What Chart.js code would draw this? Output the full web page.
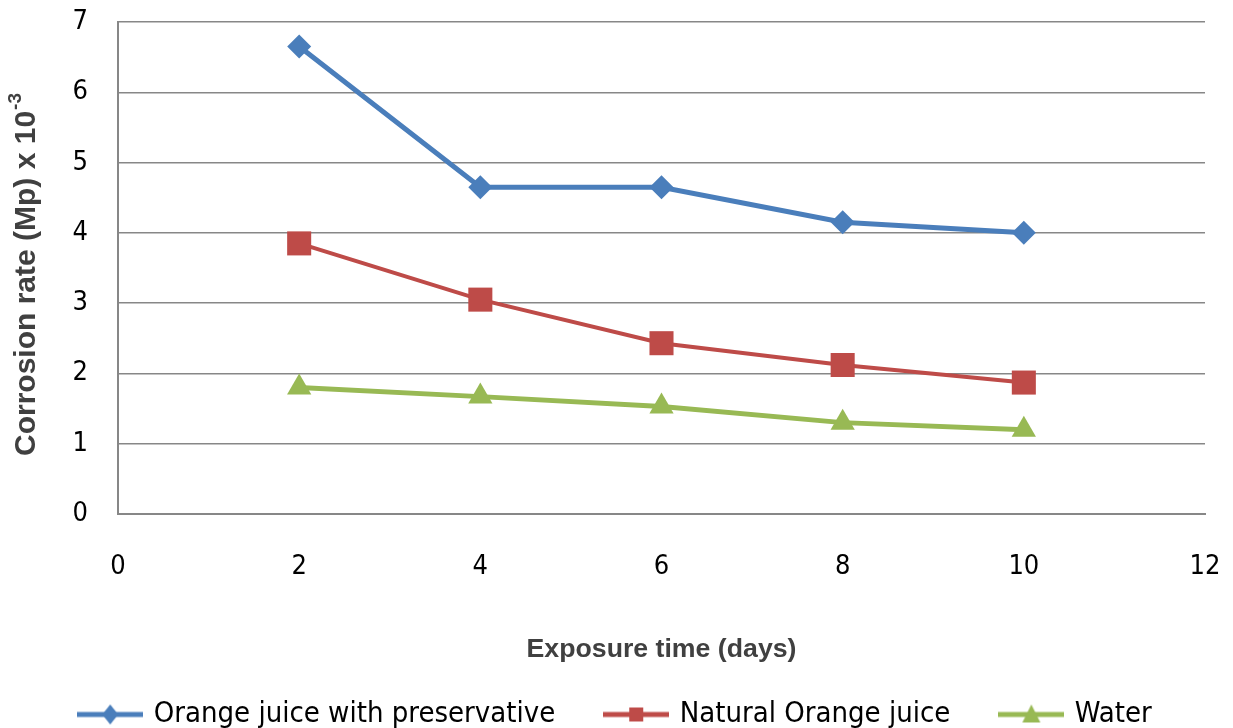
<!DOCTYPE html>
<html>
<head>
<meta charset="utf-8">
<script src="https://cdn.jsdelivr.net/npm/chart.js@4"></script>
<style>
  html, body { margin: 0; background: #fff; }
  #wrap { width: 1233px; height: 728px; }
</style>
</head>
<body>
<div id="wrap"><canvas id="chart"></canvas></div>
<script>
const days = [2, 4, 6, 8, 10];
const withPreservative = [6.65, 4.65, 4.65, 4.15, 4.0];
const naturalJuice = [3.85, 3.05, 2.43, 2.12, 1.87];
const water = [1.8, 1.67, 1.53, 1.3, 1.2];
const seriesNames = ['Orange juice with preservative', 'Natural Orange juice', 'Water'];
const seriesColors = ['#4a7ebb', '#be4b48', '#98b954'];
const xTitle = 'Exposure time (days)';
const yTitle = 'Corrosion rate (Mp) x 10';
const yTitleSup = '-3';

const toPoints = (vals) => vals.map((v, i) => ({ x: days[i], y: v }));

// small line + marker icons for the legend
function legendIcon(color, shape) {
    const c = document.createElement('canvas');
    c.width = 66; c.height = 26;
    const g = c.getContext('2d');
    g.strokeStyle = color; g.fillStyle = color; g.lineWidth = 5;
    g.beginPath(); g.moveTo(0, 13); g.lineTo(66, 13); g.stroke();
    g.beginPath();
    if (shape === 'diamond') {
        g.moveTo(33, 3); g.lineTo(41, 13); g.lineTo(33, 23); g.lineTo(25, 13);
    } else if (shape === 'square') {
        g.rect(26, 6, 14, 14);
    } else {
        g.moveTo(33, 3); g.lineTo(42, 21); g.lineTo(24, 21);
    }
    g.closePath(); g.fill();
    return c;
}
const icons = [
    legendIcon(seriesColors[0], 'diamond'),
    legendIcon(seriesColors[1], 'square'),
    legendIcon(seriesColors[2], 'triangle'),
];

const yTitlePlugin = {
    id: 'yTitle',
    afterDraw(chart) {
        const ctx = chart.ctx;
        const big = 'bold 30px "Liberation Sans", Arial, sans-serif';
        const small = 'bold 19px "Liberation Sans", Arial, sans-serif';
        ctx.save();
        ctx.translate(27, 275);
        ctx.rotate(-Math.PI / 2);
        ctx.fillStyle = '#404040';
        ctx.textBaseline = 'middle';
        ctx.textAlign = 'left';
        ctx.font = big;
        const w1 = ctx.measureText(yTitle).width;
        ctx.font = small;
        const w2 = ctx.measureText(yTitleSup).width;
        const start = -(w1 + w2) / 2;
        ctx.font = big;
        ctx.fillText(yTitle, start, 0);
        ctx.font = small;
        ctx.fillText(yTitleSup, start + w1 + 1, -11);
        ctx.restore();
    }
};

const mk = (label, data, color, style, radius, width) => ({
    label, data: toPoints(data),
    borderColor: color, backgroundColor: color,
    borderWidth: width, pointStyle: style, pointRadius: radius,
    pointBorderWidth: 0, pointBackgroundColor: color, tension: 0,
});

new Chart(document.getElementById('chart'), {
    type: 'line',
    data: {
        datasets: [
            mk(seriesNames[0], withPreservative, seriesColors[0], 'rectRot', 12, 5),
            mk(seriesNames[1], naturalJuice, seriesColors[1], 'rect', 17, 4),
            mk(seriesNames[2], water, seriesColors[2], 'triangle', 14, 5),
        ],
    },
    plugins: [yTitlePlugin],
    options: {
        responsive: true,
        maintainAspectRatio: false,
        animation: false,
        layout: { autoPadding: false, padding: { top: 22, right: 28, left: 28, bottom: 0 } },
        plugins: {
            tooltip: { enabled: false },
            legend: {
                position: 'bottom',
                maxHeight: 80,
                labels: {
                    usePointStyle: true,
                    pointStyleWidth: 58,
                    padding: 52,
                    color: '#000',
                    font: { family: '"DejaVu Sans Condensed", sans-serif', size: 29 },
                    generateLabels(chart) {
                        const items = Chart.defaults.plugins.legend.labels.generateLabels(chart);
                        items.forEach((it, i) => { it.pointStyle = icons[i]; });
                        return items;
                    },
                },
            },
        },
        scales: {
            x: {
                type: 'linear', min: 0, max: 12,
                afterFit(scale) {
                    scale.height = 134;
                    scale.paddingLeft = 0;
                    scale.paddingRight = 0;
                },
                grid: { display: false, drawTicks: false },
                border: { display: true, color: '#878787', width: 2 },
                ticks: {
                    stepSize: 2, padding: 37, color: '#000', maxRotation: 0,
                    font: { family: '"DejaVu Sans Condensed", sans-serif', size: 27 },
                },
                title: {
                    display: true, text: xTitle, color: '#404040',
                    font: { family: '"Liberation Sans", Arial, sans-serif', size: 26.7, weight: 'bold' },
                    padding: { top: 0, bottom: -18 },
                },
            },
            y: {
                min: 0, max: 7,
                afterFit(scale) {
                    scale.width = 90;
                    scale.paddingTop = 0;
                    scale.paddingBottom = 0;
                },
                grid: { color: '#878787', lineWidth: 1.5, drawTicks: false },
                border: { display: true, color: '#878787', width: 2 },
                ticks: {
                    stepSize: 1, padding: 30, color: '#000',
                    font: { family: '"DejaVu Sans Condensed", sans-serif', size: 27 },
                },
            },
        },
    },
});
</script>
</body>
</html>
